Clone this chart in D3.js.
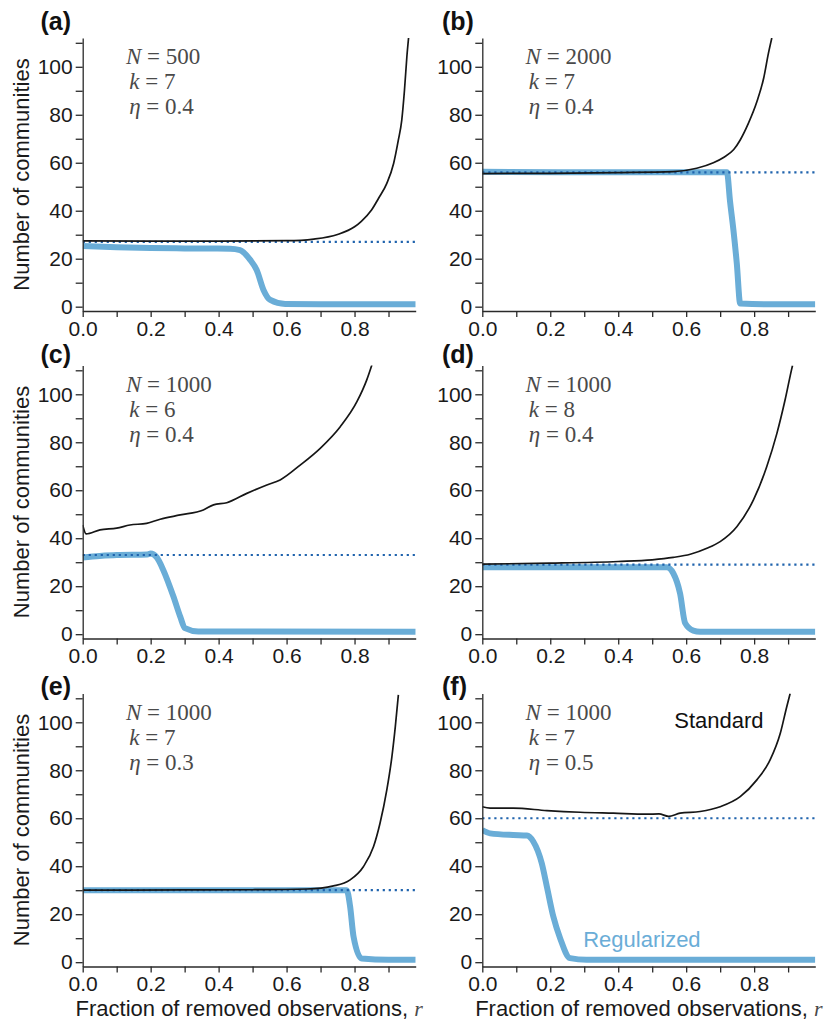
<!DOCTYPE html>
<html>
<head>
<meta charset="utf-8">
<script src="https://cdn.jsdelivr.net/npm/d3@7"></script>
<style>
  body { margin: 0; background: #fff; }
  svg { display: block; }
</style>
</head>
<body>
<div class="mainContent"></div>
<script>
const w = 826;
const h = 1021;

// panel labels and parameters
const panelLabels = ['(a)', '(b)', '(c)', '(d)', '(e)', '(f)'];
const paramN = [500, 2000, 1000, 1000, 1000, 1000];
const paramK = [7, 7, 6, 8, 7, 7];
const paramEta = ['0.4', '0.4', '0.4', '0.4', '0.3', '0.5'];

// dotted reference level per panel
const refLevels = [27, 56, 33, 29, 30, 60];

// [r, number of communities] -- standard method (black)
const stdA = [[0,27.4],[0.2,27.3],[0.4,27.3],[0.6,27.5],[0.68,28.2],[0.75,30.1],[0.8,33.3],[0.82,35.6],[0.85,40.3],[0.87,45],[0.895,51.4],[0.915,59.7],[0.929,69.5],[0.939,77.8],[0.947,90.3],[0.954,104.2],[0.959,112]];
const stdB = [[0,55.5],[0.2,55.6],[0.4,55.9],[0.562,56.3],[0.631,57.7],[0.68,60],[0.71,62.2],[0.74,65.5],[0.759,69.5],[0.783,76.4],[0.808,85.4],[0.828,95.2],[0.842,105.6],[0.852,112]];
const stdC = [[0,45.5],[0.01,41.8],[0.051,43.5],[0.1,44.2],[0.139,45.5],[0.188,46.2],[0.228,47.9],[0.287,49.7],[0.355,51.8],[0.385,53.9],[0.424,54.8],[0.483,58.7],[0.542,62.2],[0.581,64.3],[0.64,70.5],[0.699,77.5],[0.758,86.5],[0.807,96.9],[0.836,106],[0.851,112.2]];
const stdD = [[0,29.2],[0.2,29.6],[0.4,30.3],[0.5,31],[0.562,32],[0.612,33.3],[0.661,35.8],[0.7,38.6],[0.749,44.8],[0.798,56],[0.837,69.8],[0.867,83.7],[0.891,97.6],[0.911,110.8],[0.913,112]];
const stdE = [[0,30],[0.3,30.1],[0.5,30.2],[0.66,30.5],[0.738,31.8],[0.787,34.3],[0.826,39.8],[0.856,48.2],[0.875,57.9],[0.895,71.8],[0.91,85.7],[0.92,98.2],[0.929,111.4]];
const stdF = [[0,64.8],[0.023,64.2],[0.091,64.2],[0.19,63.2],[0.288,62.5],[0.386,62.1],[0.484,61.7],[0.52,61.8],[0.548,60.8],[0.582,62.1],[0.641,62.8],[0.7,64.8],[0.759,69],[0.808,76],[0.847,84.3],[0.877,95.4],[0.896,106.5],[0.906,112]];

// regularized method (blue)
const regA = [[0,25.3],[0.1,24.8],[0.2,24.5],[0.3,24.3],[0.434,24.2],[0.463,23.6],[0.493,19.5],[0.512,15.3],[0.532,7],[0.552,2.8],[0.596,1.1],[0.7,1],[0.98,1]];
const regB = [[0,56.2],[0.3,56],[0.6,56],[0.72,56],[0.729,44],[0.739,32],[0.749,18],[0.759,1.3],[0.85,1],[0.98,1]];
const regC = [[0,32],[0.05,32.6],[0.1,33],[0.19,33.2],[0.2,33.6],[0.218,32],[0.237,26.8],[0.267,15.7],[0.287,7.3],[0.301,2.5],[0.34,1.1],[0.98,1]];
const regD = [[0,27.9],[0.3,27.9],[0.543,27.9],[0.562,25.4],[0.582,17],[0.597,4.6],[0.621,1.5],[0.641,1],[0.98,1]];
const regE = [[0,30],[0.4,30],[0.777,30],[0.787,23.2],[0.797,10.7],[0.821,1.5],[0.9,1],[0.98,1]];
const regF = [[0,55.1],[0.023,53.7],[0.091,53],[0.131,52.8],[0.15,50.3],[0.175,41.2],[0.19,31.5],[0.209,19],[0.229,10],[0.258,1.7],[0.307,1],[0.98,1]];

const stdSeries = [stdA, stdB, stdC, stdD, stdE, stdF];
const regSeries = [regA, regB, regC, regD, regE, regF];

// layout
const colLeft = [82.7, 482.3];
const rowTop = [38, 365.5, 693.5];
const labelBase = [30, 363, 695];
const pw = 333;
const ph = 273;

const sansFont = '"Liberation Sans", Arial, Helvetica, sans-serif';
const serifFont = '"Liberation Serif", "Times New Roman", serif';
const blue = '#6aadd7';
const refBlue = '#1f63ad';

function drawChart() {
    const svg = d3.select('.mainContent')
        .append('svg')
        .attr('width', w)
        .attr('height', h);

    const xScale = d3.scaleLinear().domain([0, 0.98]).range([0, pw]);
    const yScale = d3.scaleLinear().domain([-1.8, 112]).range([ph, 0]);

    const line = d3.line()
        .x(d => xScale(d[0]))
        .y(d => yScale(d[1]))
        .curve(d3.curveMonotoneX);

    panelLabels.forEach((label, i) => {
        const col = i % 2;
        const row = Math.floor(i / 2);
        const g = svg.append('g')
            .attr('transform', `translate(${colLeft[col]},${rowTop[row]})`);

        g.append('clipPath')
            .attr('id', 'clip' + i)
            .append('rect')
            .attr('x', 0).attr('y', 0)
            .attr('width', pw).attr('height', ph);

        const plot = g.append('g').attr('clip-path', `url(#clip${i})`);

        // regularized
        plot.append('path')
            .datum(regSeries[i])
            .attr('d', line)
            .attr('fill', 'none')
            .attr('stroke', blue)
            .attr('stroke-width', 6)
            .attr('stroke-linejoin', 'round');

        // dotted reference
        plot.append('line')
            .attr('x1', xScale(0)).attr('x2', xScale(0.98))
            .attr('y1', yScale(refLevels[i])).attr('y2', yScale(refLevels[i]))
            .attr('stroke', refBlue)
            .attr('stroke-width', 2.2)
            .attr('stroke-dasharray', '2.2,3.8');

        // standard
        plot.append('path')
            .datum(stdSeries[i])
            .attr('d', line)
            .attr('fill', 'none')
            .attr('stroke', '#161616')
            .attr('stroke-width', 1.7);

        // axes
        const xAxis = d3.axisBottom(xScale)
            .tickValues(d3.range(10).map(k => k / 10))
            .tickFormat((d, k) => k % 2 === 0 ? d.toFixed(1) : '')
            .tickSize(6)
            .tickSizeOuter(0)
            .tickPadding(4);
        const yAxis = d3.axisLeft(yScale)
            .tickValues(d3.range(0, 111, 10))
            .tickFormat(d => d % 20 === 0 ? d : '')
            .tickSize(7)
            .tickSizeOuter(0)
            .tickPadding(3);

        const gx = g.append('g')
            .attr('transform', `translate(0,${ph})`)
            .call(xAxis);
        const gy = g.append('g').call(yAxis);

        [gx, gy].forEach(a => {
            a.selectAll('path, line').attr('stroke', '#2a2a2a').attr('stroke-width', 1.3);
            a.selectAll('text')
                .attr('fill', '#1a1a1a')
                .style('font-family', sansFont)
                .style('font-size', '21px');
        });

        // panel label
        svg.append('text')
            .attr('x', col === 0 ? 40.5 : 442)
            .attr('y', labelBase[row])
            .style('font-family', sansFont)
            .style('font-size', '25px')
            .style('font-weight', 'bold')
            .attr('fill', '#111')
            .text(label);

        // parameters
        const params = [
            { sym: 'N', val: ' = ' + paramN[i], dx: 43.3 },
            { sym: 'k', val: ' = ' + paramK[i], dx: 46.5 },
            { sym: 'η', val: ' = ' + paramEta[i], dx: 46.5 }
        ];
        params.forEach((p, j) => {
            const t = g.append('text')
                .attr('x', p.dx)
                .attr('y', yScale(0) - 242.5 + j * 25 )
                .attr('fill', '#4a4a4a')
                .style('font-family', serifFont)
                .style('font-size', '23px');
            t.append('tspan').style('font-style', 'italic').text(p.sym);
            t.append('tspan').attr('xml:space', 'preserve').text(p.val);
        });

        // y axis title
        if (col === 0) {
            svg.append('text')
                .attr('transform', `translate(29,${rowTop[row] + ph / 2}) rotate(-90)`)
                .attr('text-anchor', 'middle')
                .attr('fill', '#1a1a1a')
                .style('font-family', sansFont)
                .style('font-size', '22px')
                .text('Number of communities');
        }

        // x axis title
        if (row === 2) {
            const t = svg.append('text')
                .attr('x', colLeft[col] + pw / 2)
                .attr('y', 1016)
                .attr('text-anchor', 'middle')
                .attr('fill', '#1a1a1a')
                .style('font-family', sansFont)
                .style('font-size', '22px');
            t.append('tspan').text('Fraction of removed observations, ');
            t.append('tspan')
                .style('font-family', serifFont)
                .style('font-style', 'italic')
                .attr('fill', '#4a4a4a')
                .text('r');
        }

        // legend labels in panel (f)
        if (i === 5) {
            g.append('text')
                .attr('x', xScale(0.565))
                .attr('y', yScale(97.7))
                .attr('fill', '#111')
                .style('font-family', sansFont)
                .style('font-size', '22px')
                .text('Standard');
            g.append('text')
                .attr('x', xScale(0.297))
                .attr('y', yScale(6.5))
                .attr('fill', blue)
                .style('font-family', sansFont)
                .style('font-size', '22px')
                .text('Regularized');
        }
    });
}

drawChart();
</script>
</body>
</html>
